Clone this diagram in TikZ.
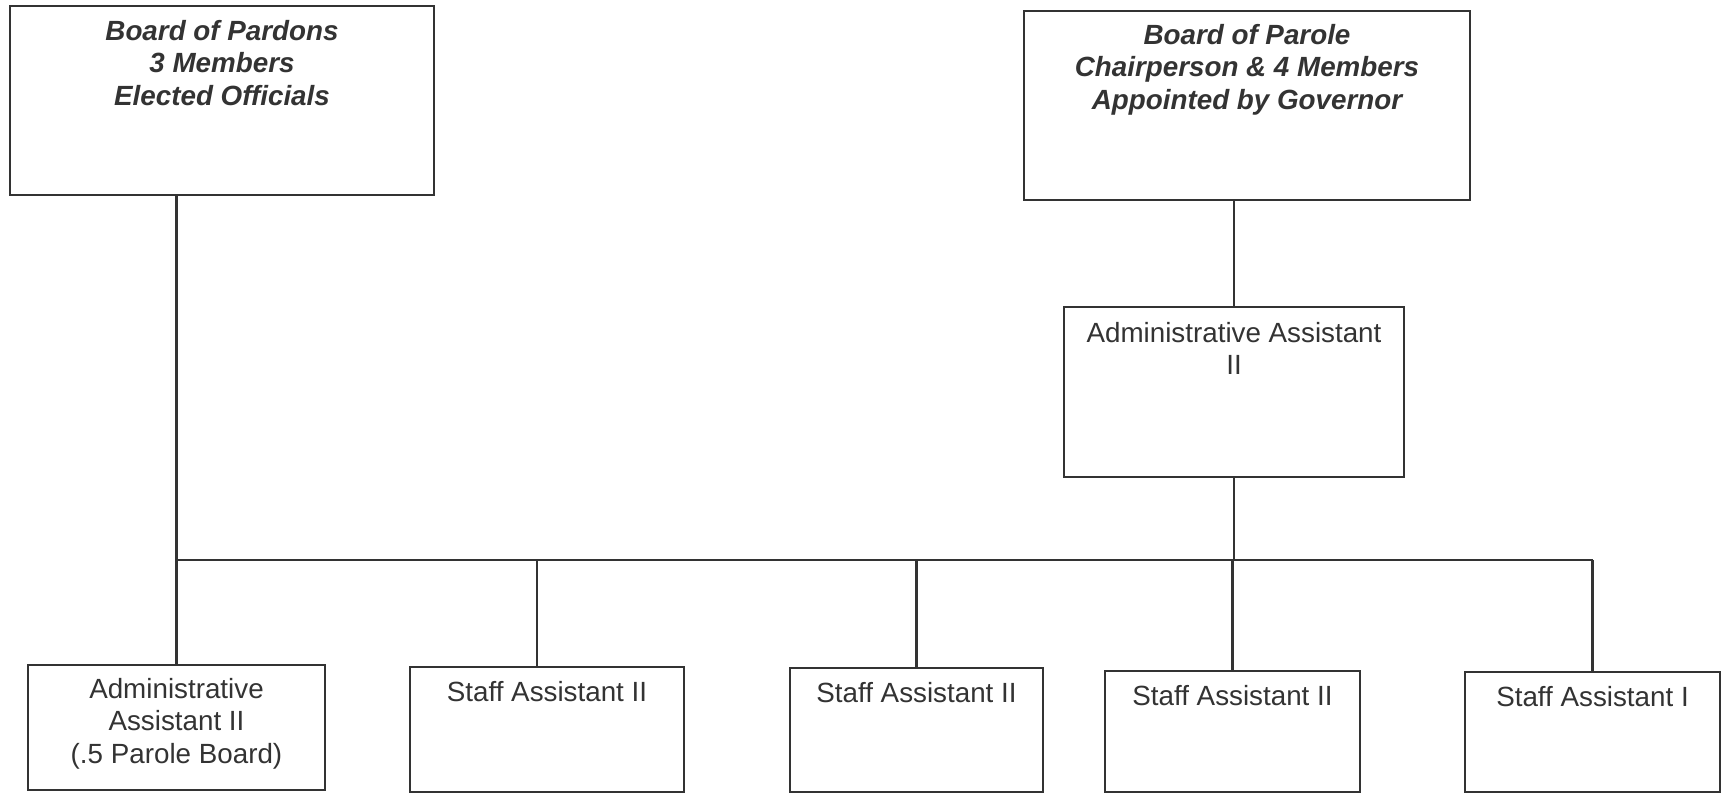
\documentclass[tikz,border=0pt]{standalone}
\usepackage{fontspec}
\setmainfont{Liberation Sans}
\usetikzlibrary{positioning}
\definecolor{inkgray}{HTML}{333333}

\begin{document}
\begin{tikzpicture}[x=0.01cm, y=-0.01cm,
  box/.style={draw=inkgray, line width=0.7pt, inner sep=0pt},
  boardtext/.style={font=\fontsize{7.9}{9.2}\selectfont\bfseries\itshape, text=inkgray, align=center, inner sep=0pt},
  roletext/.style={font=\fontsize{7.9}{9.2}\selectfont, text=inkgray, align=center, inner sep=0pt},
  link/.style={draw=inkgray, line width=0.7pt}]
\useasboundingbox (0,0) rectangle (1724,795);

% Boards
\node[box, minimum width=4.24cm, minimum height=1.89cm] (pardons) at (222,100.5) {};
\node[boardtext, below=0.15cm of pardons.north] (pardonsT) {Board of Pardons\\3 Members\\Elected Officials};

\node[box, minimum width=4.46cm, minimum height=1.89cm] (parole) at (1247,105.5) {};
\node[boardtext, below=0.14cm of parole.north] (paroleT) {Board of Parole\\Chairperson \& 4 Members\\Appointed by Governor};

% Parole board assistant
\node[box, minimum width=3.40cm, minimum height=1.70cm] (paroleAA) at (1234,392) {};
\node[roletext, below=0.16cm of paroleAA.north] (paroleAAT) {Administrative Assistant\\II};

% Staff row
\node[box, minimum width=2.97cm, minimum height=1.25cm] (adminAA) at (176.5,727.5) {};
\node[roletext, below=0.14cm of adminAA.north] (adminAAT) {Administrative\\Assistant II\\(.5 Parole Board)};

\node[box, minimum width=2.74cm, minimum height=1.25cm] (staffA) at (547,729.5) {};
\node[roletext, below=0.15cm of staffA.north] (staffAT) {Staff Assistant II};

\node[box, minimum width=2.53cm, minimum height=1.24cm] (staffB) at (916.5,730) {};
\node[roletext, below=0.15cm of staffB.north] (staffBT) {Staff Assistant II};

\node[box, minimum width=2.55cm, minimum height=1.21cm] (staffC) at (1232.5,731.5) {};
\node[roletext, below=0.15cm of staffC.north] (staffCT) {Staff Assistant II};

\node[box, minimum width=2.55cm, minimum height=1.20cm] (staffD) at (1592.5,732) {};
\node[roletext, below=0.15cm of staffD.north] (staffDT) {Staff Assistant I};

% Connectors
\coordinate (bus) at (0,560);
\draw[link] (adminAA.north |- pardons.south) -- (adminAA.north);
\draw[link] (paroleAA.north |- parole.south) -- (paroleAA.north);
\draw[link] (paroleAA.south) -- (paroleAA.south |- bus);
\draw[link] (adminAA.north |- bus) -- (staffD.north |- bus);
\draw[link] ([xshift=-0.1cm]staffA.north |- bus) -- ([xshift=-0.1cm]staffA.north);
\foreach \n in {staffB,staffC,staffD}
  \draw[link] (\n.north |- bus) -- (\n.north);
\end{tikzpicture}
\end{document}
